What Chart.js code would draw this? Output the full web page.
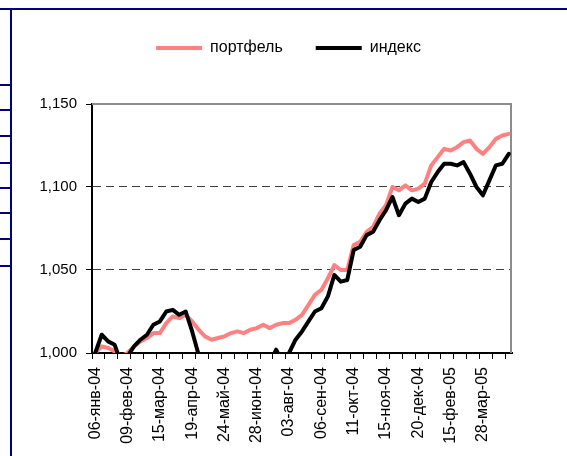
<!DOCTYPE html>
<html>
<head>
<meta charset="utf-8">
<script src="https://cdn.jsdelivr.net/npm/chart.js@4/dist/chart.umd.min.js"></script>
<style>
  html, body { margin: 0; padding: 0; background: #fff; }
  #wrap { position: relative; width: 567px; height: 456px; overflow: hidden; }
  canvas { position: absolute; left: 0; top: 0; }
  .fr { position: absolute; background: #000080; }
</style>
</head>
<body>
<div id="wrap">
  <canvas id="c" width="567" height="456"></canvas>
  <div class="fr" style="left:0;top:8px;width:567px;height:2px"></div>
  <div class="fr" style="left:10px;top:8px;width:2px;height:448px"></div>
  <div class="fr" style="left:0;top:84px;width:10px;height:2px"></div>
  <div class="fr" style="left:0;top:109px;width:10px;height:2px"></div>
  <div class="fr" style="left:0;top:135px;width:10px;height:2px"></div>
  <div class="fr" style="left:0;top:162px;width:10px;height:2px"></div>
  <div class="fr" style="left:0;top:187px;width:10px;height:2px"></div>
  <div class="fr" style="left:0;top:212px;width:10px;height:2px"></div>
  <div class="fr" style="left:0;top:238px;width:10px;height:2px"></div>
  <div class="fr" style="left:0;top:265px;width:10px;height:2px"></div>
</div>
<script>
const categories = [
  '06-янв-04','13-янв-04','20-янв-04','27-янв-04','03-фев-04',
  '09-фев-04','16-фев-04','24-фев-04','01-мар-04','09-мар-04',
  '15-мар-04','22-мар-04','29-мар-04','05-апр-04','12-апр-04',
  '19-апр-04','26-апр-04','04-май-04','11-май-04','17-май-04',
  '24-май-04','31-май-04','07-июн-04','15-июн-04','21-июн-04',
  '28-июн-04','05-июл-04','12-июл-04','19-июл-04','26-июл-04',
  '03-авг-04','09-авг-04','16-авг-04','23-авг-04','30-авг-04',
  '06-сен-04','13-сен-04','20-сен-04','27-сен-04','04-окт-04',
  '11-окт-04','18-окт-04','25-окт-04','01-ноя-04','08-ноя-04',
  '15-ноя-04','22-ноя-04','29-ноя-04','06-дек-04','13-дек-04',
  '20-дек-04','27-дек-04','11-янв-05','18-янв-05','01-фев-05',
  '15-фев-05','22-фев-05','01-мар-05','14-мар-05','21-мар-05',
  '28-мар-05','04-апр-05','11-апр-05','18-апр-05','25-апр-05'
];
const portfolio = [
  1.000,1.004,1.003,1.001,0.998, 1.000,1.004,1.007,1.009,1.012,
  1.012,1.018,1.022,1.021,1.023, 1.019,1.014,1.010,1.008,1.009,
  1.010,1.012,1.013,1.012,1.014, 1.015,1.017,1.015,1.017,1.018,
  1.018,1.020,1.023,1.029,1.035, 1.038,1.045,1.053,1.050,1.050,
  1.065,1.067,1.073,1.076,1.084, 1.089,1.100,1.098,1.101,1.098,
  1.099,1.102,1.113,1.118,1.123, 1.122,1.124,1.127,1.128,1.123,
  1.120,1.124,1.129,1.131,1.132
];
const indexSeries = [
  1.000,1.011,1.007,1.005,0.994, 0.998,1.004,1.008,1.011,1.017,
  1.019,1.025,1.026,1.023,1.025, 1.013,0.999,0.988,0.982,0.979,
  0.977,0.980,0.983,0.986,0.988, 0.990,0.992,0.994,1.002,0.994,
  1.000,1.008,1.013,1.019,1.025, 1.027,1.034,1.047,1.043,1.044,
  1.062,1.064,1.071,1.073,1.080, 1.086,1.094,1.083,1.090,1.093,
  1.091,1.093,1.103,1.109,1.114, 1.114,1.113,1.115,1.108,1.100,
  1.095,1.104,1.113,1.114,1.120
];
const seriesNames = ['портфель', 'индекс'];
const yTicks = [1.000, 1.050, 1.100, 1.150];

const FONT = 'Liberation Sans, Arial, sans-serif';

function spacerBox(position, size, weight) {
  return {
    position, weight, fullSize: false, options: {},
    update(w, h) {
      if (position === 'top' || position === 'bottom') { this.width = w; this.height = size; }
      else { this.width = size; this.height = h; }
    },
    isHorizontal() { return position === 'top' || position === 'bottom'; },
    draw() {}
  };
}
const spacers = {
  id: 'spacers',
  beforeInit(chart) {
    Chart.layouts.addBox(chart, spacerBox('top', 38, 500));
    Chart.layouts.addBox(chart, spacerBox('right', 55, 500));
  }
};
const plotFrame = {
  id: 'plotFrame',
  beforeDatasetsDraw(chart) {
    const {ctx, chartArea: a} = chart;
    ctx.save();
    ctx.strokeStyle = '#8c8c8c';
    ctx.lineWidth = 2;
    ctx.beginPath();
    ctx.moveTo(a.left, a.top);
    ctx.lineTo(a.right - 1, a.top);
    ctx.lineTo(a.right - 1, a.bottom);
    ctx.stroke();
    ctx.restore();
  }
};

new Chart(document.getElementById('c'), {
  type: 'line',
  data: {
    labels: categories,
    datasets: [
      { label: seriesNames[0], data: portfolio, borderColor: '#ff8080', backgroundColor: '#ff8080',
        borderWidth: 4, pointRadius: 0, tension: 0, borderCapStyle: 'round', borderJoinStyle: 'round',
        clip: 0, order: 1 },
      { label: seriesNames[1], data: indexSeries, borderColor: '#000000', backgroundColor: '#000000',
        borderWidth: 4, pointRadius: 0, tension: 0, borderCapStyle: 'round', borderJoinStyle: 'round',
        clip: 0, order: 0 }
    ]
  },
  options: {
    responsive: false,
    animation: false,
    events: [],
    layout: { padding: { left: 10, right: 0, top: 7, bottom: 0 } },
    plugins: {
      tooltip: { enabled: false },
      legend: {
        position: 'top',
        labels: {
          usePointStyle: true,
          pointStyle: 'line',
          pointStyleWidth: 46,
          boxHeight: 16,
          padding: 33,
          color: '#000',
          font: { family: FONT, size: 16 },
          sort: (a, b) => a.datasetIndex - b.datasetIndex
        }
      }
    },
    scales: {
      x: {
        type: 'category',
        offset: true,
        border: { color: '#000', width: 2 },
        grid: {
          offset: true,
          drawOnChartArea: false,
          tickLength: 6,
          tickWidth: 1,
          tickColor: (c) => (c.index % 2 === 0 ? '#000' : 'rgba(0,0,0,0)')
        },
        ticks: {
          autoSkip: false,
          minRotation: 90,
          maxRotation: 90,
          padding: 8,
          color: '#000',
          font: { family: FONT, size: 16 },
          callback: function (v, i) { return i % 5 === 0 ? this.getLabelForValue(v) : ''; }
        },
        afterFit: (s) => { s.height = 103; }
      },
      y: {
        min: yTicks[0],
        max: yTicks[yTicks.length - 1],
        border: { color: '#000', width: 2, dash: [8, 5] },
        grid: {
          color: (c) => {
            const v = c.tick ? c.tick.value : null;
            return (v !== null && v > yTicks[0] + 1e-6 && v < yTicks[yTicks.length - 1] - 1e-6) ? '#404040' : 'rgba(0,0,0,0)';
          },
          lineWidth: 1,
          tickLength: 6,
          tickColor: '#000',
          tickWidth: 1
        },
        afterBuildTicks: (s) => { s.ticks = yTicks.map(v => ({ value: v })); },
        ticks: {
          padding: 9,
          color: '#000',
          font: { family: FONT, size: 15 },
          callback: (v) => Number(v).toFixed(3).replace('.', ',')
        },
        afterFit: (s) => { s.width = 82; }
      }
    }
  },
  plugins: [spacers, plotFrame]
});
</script>
</body>
</html>
